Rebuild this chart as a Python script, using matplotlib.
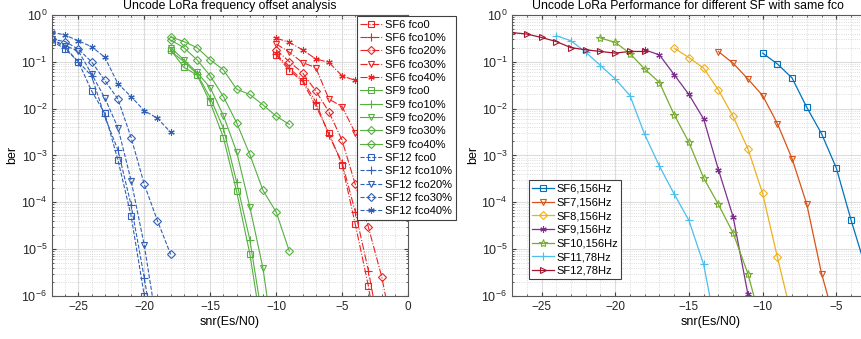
import numpy as np
import matplotlib.pyplot as plt
from matplotlib.ticker import LogLocator, MultipleLocator, NullFormatter

plt.rcParams['font.family'] = ['Liberation Sans', 'DejaVu Sans']
plt.rcParams['font.size'] = 8

AST = (6, 2, 0)  # MATLAB-like asterisk marker

# ---- left panel data: SF6 / SF9 / SF12 with frequency offset ----
fco_labels = ['fco0', 'fco10%', 'fco20%', 'fco30%', 'fco40%']

sf6_snr = [-10, -9, -8, -7, -6, -5, -4, -3, -2, -1, 0]
sf6_ber = [
    [0.14, 0.065, 0.038, 0.0115, 0.003, 0.00063, 3.4e-5, 1.6e-6, 3e-8],
    [0.15, 0.072, 0.041, 0.014, 0.0027, 0.0007, 6.3e-5, 3.4e-6, 1e-7],
    [0.18, 0.10, 0.058, 0.024, 0.0085, 0.0021, 2.4e-4, 2.9e-5, 2.6e-6, 1e-7],
    [0.24, 0.16, 0.096, 0.075, 0.016, 0.011, 0.003, 6e-4, 1e-4],
    [0.32, 0.26, 0.18, 0.115, 0.097, 0.05, 0.04, 0.02, 0.012],
]
sf6_markers = ['s', '+', 'D', 'v', AST]

sf9_snr = [-18, -17, -16, -15, -14, -13, -12, -11, -10, -9]
sf9_ber = [
    [0.18, 0.076, 0.052, 0.0135, 0.0024, 1.7e-4, 8e-6, 1.3e-7],
    [0.17, 0.10, 0.055, 0.017, 0.0038, 2.7e-4, 1.6e-5, 2.7e-7],
    [0.20, 0.11, 0.059, 0.028, 0.0071, 0.0012, 8e-5, 3.9e-6, 4e-8],
    [0.29, 0.20, 0.11, 0.05, 0.018, 0.005, 0.00105, 1.8e-4, 6.2e-5, 9e-6],
    [0.34, 0.27, 0.20, 0.11, 0.067, 0.026, 0.020, 0.012, 0.0069, 0.0046],
]
sf9_markers = ['s', '+', 'v', 'D', 'D']

sf12_snr = [-27, -26, -25, -24, -23, -22, -21, -20, -19, -18]
sf12_ber = [
    [0.27, 0.19, 0.10, 0.024, 0.0079, 0.0008, 5.1e-5, 1e-6],
    [0.30, 0.20, 0.10, 0.05, 0.0068, 0.0013, 8.7e-5, 2.4e-6, 5e-8],
    [0.30, 0.22, 0.17, 0.055, 0.017, 0.0039, 2.9e-4, 1.2e-5, 2e-7],
    [0.30, 0.27, 0.185, 0.10, 0.04, 0.016, 0.0024, 2.4e-4, 4e-5, 7.7e-6],
    [0.43, 0.37, 0.28, 0.21, 0.125, 0.034, 0.018, 0.009, 0.0062, 0.0031],
]
sf12_markers = ['s', '+', 'v', 'D', AST]

# ---- right panel data: different SF, same fco ----
sf_labels = ['SF6,156Hz', 'SF7,156Hz', 'SF8,156Hz', 'SF9,156Hz',
             'SF10,156Hz', 'SF11,78Hz', 'SF12,78Hz']
sf_snr = [
    [-10, -9, -8, -7, -6, -5, -4, -3],
    [-13, -12, -11, -10, -9, -8, -7, -6, -5],
    [-16, -15, -14, -13, -12, -11, -10, -9, -8],
    [-18, -17, -16, -15, -14, -13, -12, -11, -10],
    [-21, -20, -19, -18, -17, -16, -15, -14, -13, -12, -11, -10],
    [-24, -23, -22, -21, -20, -19, -18, -17, -16, -15, -14, -13],
    [-27, -26, -25, -24, -23, -22, -21, -20, -19, -18],
]
sf_ber = [
    [0.153, 0.09, 0.045, 0.0106, 0.0029, 5.4e-4, 4.2e-5, 3.9e-6],
    [0.165, 0.093, 0.043, 0.019, 0.0048, 8.5e-4, 9e-5, 3e-6, 2.2e-7],
    [0.195, 0.123, 0.073, 0.025, 0.0068, 0.0014, 1.55e-4, 6.8e-6, 3.4e-7],
    [0.18, 0.14, 0.053, 0.02, 0.006, 5e-4, 4.9e-5, 1.1e-6, 1e-8],
    [0.32, 0.26, 0.15, 0.07, 0.036, 0.0074, 0.0019, 3.3e-4, 9e-5, 2.2e-5, 3e-6, 2e-7],
    [0.36, 0.28, 0.16, 0.083, 0.043, 0.019, 0.0028, 5.9e-4, 1.5e-4, 4.1e-5, 4.7e-6, 1.1e-7],
    [0.42, 0.39, 0.33, 0.27, 0.2, 0.18, 0.166, 0.153, 0.166, 0.166],
]
sf_markers = ['s', 'v', 'D', AST, '*', '+', '>']
sf_colors = ['#0072BD', '#D95319', '#EDB120', '#7E2F8E', '#77AC30', '#4DBEEE', '#A2142F']


def msize(mk):
    if mk == 'D':
        return 3.8
    if mk == '*':
        return 6
    if mk == '+':
        return 5.5
    return 4.6


def style_axes(ax, xlim):
    ax.set_yscale('log')
    ax.set_xlim(*xlim)
    ax.set_ylim(1e-6, 1)
    ax.xaxis.set_major_locator(MultipleLocator(5))
    ax.xaxis.set_minor_locator(MultipleLocator(1))
    ax.yaxis.set_major_locator(LogLocator(base=10, numticks=10))
    ax.yaxis.set_minor_locator(LogLocator(base=10, subs=np.arange(2, 10), numticks=10))
    ax.yaxis.set_minor_formatter(NullFormatter())
    ax.grid(True, which='major', color='#DCDCDC', linewidth=0.8)
    ax.grid(True, which='minor', color='#D0D0D0', linestyle=':', linewidth=0.6)
    ax.set_axisbelow(True)
    ax.tick_params(which='both', direction='in', top=True, right=True,
                   colors='#404040', labelcolor='#262626')
    ax.tick_params(axis='x', labelsize=8.5)
    ax.tick_params(axis='y', labelsize=9)
    ax.tick_params(which='major', length=3)
    ax.tick_params(which='minor', length=1.5)
    for s in ax.spines.values():
        s.set_color('#5A5A5A')
        s.set_linewidth(0.8)
    ax.set_xlabel('snr(Es/N0)', fontsize=9, labelpad=2)
    ax.set_ylabel('ber', fontsize=9, labelpad=2)


fig = plt.figure(figsize=(8.61, 3.39), dpi=100)
ax1 = fig.add_axes([0.0604, 0.127, 0.4135, 0.829])
ax2 = fig.add_axes([0.5947, 0.127, 0.4622, 0.829])

# left panel
groups = [('SF6', sf6_snr, sf6_ber, sf6_markers, '#EE2222', '-.'),
          ('SF9', sf9_snr, sf9_ber, sf9_markers, '#55B040', '-'),
          ('SF12', sf12_snr, sf12_ber, sf12_markers, '#3060B8', '--')]
for name, snr, bers, markers, color, ls in groups:
    for lab, mk, ber in zip(fco_labels, markers, bers):
        ax1.plot(snr[:len(ber)], ber, color=color, linestyle=ls, linewidth=0.8,
                 marker=mk, markersize=msize(mk),
                 markerfacecolor='none', markeredgewidth=0.8,
                 label=f'{name} {lab}')
style_axes(ax1, (-27, 0))
ax1.set_title('Uncode LoRa frequency offset analysis', fontsize=8.8, pad=4.5)
leg1 = ax1.legend(loc='upper left', bbox_to_anchor=(0.857, 0.995), fontsize=8,
                  labelspacing=0.3, handlelength=1.9, handletextpad=0.35,
                  borderpad=0.3, borderaxespad=0, fancybox=False, framealpha=1,
                  edgecolor='#404040')
leg1.get_frame().set_linewidth(0.8)

# right panel
for snr, ber, lab, mk, color in zip(sf_snr, sf_ber, sf_labels, sf_markers, sf_colors):
    ax2.plot(snr, ber, color=color, linewidth=0.9, marker=mk,
             markersize=msize(mk),
             markerfacecolor='none', markeredgewidth=0.8, label=lab)
style_axes(ax2, (-27, 0))
ax2.set_title('Uncode LoRa Performance for different SF with same fco',
              fontsize=8.8, pad=4.5, x=0.442)
leg2 = ax2.legend(loc='lower left', bbox_to_anchor=(0.043, 0.06), fontsize=8,
                  labelspacing=0.33, handlelength=1.9, handletextpad=0.25,
                  borderpad=0.3, borderaxespad=0, fancybox=False, framealpha=1,
                  edgecolor='#404040')
leg2.get_frame().set_linewidth(0.8)

fig.savefig('out.png', dpi=100)
